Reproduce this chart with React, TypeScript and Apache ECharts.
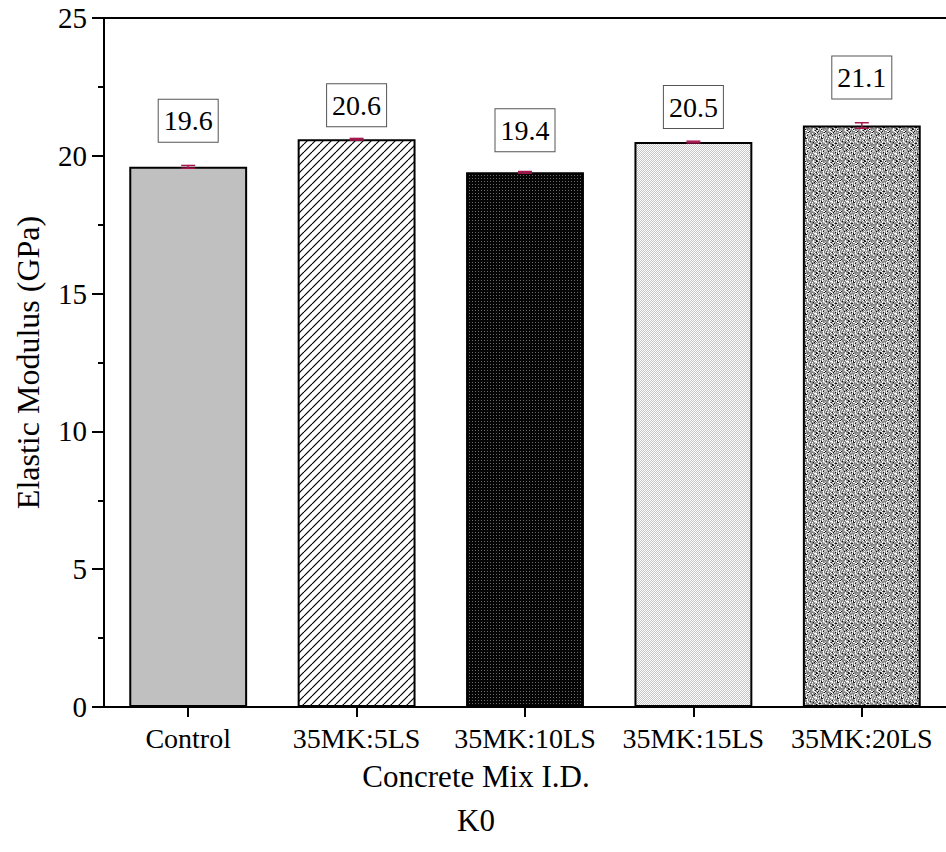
import React, { useEffect, useRef } from "react";
import * as echarts from "echarts";

const categories = ["Control", "35MK:5LS", "35MK:10LS", "35MK:15LS", "35MK:20LS"];
const values = [19.6, 20.6, 19.4, 20.5, 21.1];
const errors = [0.05, 0.03, 0.03, 0.03, 0.1];
const yTicks = [0, 5, 10, 15, 20, 25];
const xTitleLines = ["Concrete Mix I.D.", "K0"];
const yTitle = "Elastic Modulus (GPa)";

// style: gap (px) between each value box and its bar top, as placed in the reference
const labelGaps = [25, 13, 21, 14, 27];

const FONT = '"Liberation Serif", "Times New Roman", serif';

function hash(i: number, j: number) {
  let h = (i * 374761393 + j * 668265263) | 0;
  h = Math.imul(h ^ (h >>> 13), 1274126177);
  h = h ^ (h >>> 16);
  return (h >>> 0) % 1000;
}

function makeCanvas(w: number, h: number) {
  const c = document.createElement("canvas");
  c.width = w;
  c.height = h;
  return c;
}

function hatchPattern() {
  const s = 8;
  const c = makeCanvas(s, s);
  const g = c.getContext("2d")!;
  g.fillStyle = "#ffffff";
  g.fillRect(0, 0, s, s);
  g.strokeStyle = "#000000";
  g.lineWidth = 1.2;
  for (const o of [-s, 0, s]) {
    g.beginPath();
    g.moveTo(o, s);
    g.lineTo(o + s, 0);
    g.stroke();
  }
  return c;
}

function pixelPattern(w: number, h: number, pick: (x: number, y: number) => string) {
  const c = makeCanvas(w, h);
  const g = c.getContext("2d")!;
  for (let y = 0; y < h; y++) {
    for (let x = 0; x < w; x++) {
      g.fillStyle = pick(x, y);
      g.fillRect(x, y, 1, 1);
    }
  }
  return c;
}

function darkPattern() {
  return pixelPattern(3, 3, (x, y) => (x === 1 && y === 1 ? "#6a6a6a" : "#050505"));
}

function lightPattern() {
  return pixelPattern(2, 2, (x, y) => ((x + y) % 2 === 0 ? "#ffffff" : "#c4c4c4"));
}

function mediumPattern() {
  return pixelPattern(16, 16, (x, y) => {
    const r = hash(x, y);
    if (r < 90) return "#111111";
    if (r < 230) return "#ffffff";
    if (r < 450) return "#c8c8c8";
    if (r < 700) return "#9a9a9a";
    return "#7e7e7e";
  });
}

export default function App() {
  const ref = useRef<HTMLDivElement>(null);

  useEffect(() => {
    if (!ref.current) return;
    const chart = echarts.init(ref.current, null, { renderer: "svg" });

    const fills: any[] = [
      "#c0c0c0",
      { image: hatchPattern(), repeat: "repeat" },
      { image: darkPattern(), repeat: "repeat" },
      { image: lightPattern(), repeat: "repeat" },
      { image: mediumPattern(), repeat: "repeat" },
    ];

    const barData = values.map((v, i) => ({
      value: v,
      itemStyle: { color: fills[i] },
      label: { distance: labelGaps[i] },
    }));

    const errData = values.map((v, i) => [i, v, errors[i]]);

    chart.setOption({
      animation: false,
      backgroundColor: "#ffffff",
      textStyle: { fontFamily: FONT },
      grid: { left: 104, top: 18, width: 850, height: 689, containLabel: false },
      xAxis: [
        {
          type: "category",
          data: categories,
          position: "bottom",
          axisLine: { show: true, lineStyle: { color: "#000", width: 2 } },
          axisTick: { show: true, alignWithLabel: true, length: 10, lineStyle: { color: "#000", width: 2 } },
          axisLabel: {
            color: "#000",
            fontFamily: FONT,
            fontSize: 28,
            margin: 17,
            interval: 0,
            hideOverlap: false,
          },
          splitLine: { show: false },
        },
        {
          type: "category",
          data: categories,
          position: "top",
          axisLine: { show: true, lineStyle: { color: "#000", width: 2 } },
          axisTick: { show: false },
          axisLabel: { show: false },
          splitLine: { show: false },
        },
      ],
      yAxis: {
        type: "value",
        min: 0,
        max: 25,
        interval: 5,
        axisLine: { show: true, lineStyle: { color: "#000", width: 2 } },
        axisTick: { show: true, inside: false, length: 12, lineStyle: { color: "#000", width: 2 } },
        minorTick: { show: true, splitNumber: 2, length: 6, lineStyle: { color: "#000", width: 2 } },
        axisLabel: {
          color: "#000",
          fontFamily: FONT,
          fontSize: 29,
          margin: 17,
          formatter: (v: number) => (yTicks.includes(v) ? String(v) : ""),
        },
        splitLine: { show: false },
        name: yTitle,
        nameLocation: "middle",
        nameRotate: 90,
        nameGap: 60,
        nameTextStyle: { color: "#000", fontFamily: FONT, fontSize: 32 },
      },
      graphic: xTitleLines.map((t, i) => ({
        type: "text",
        x: 476,
        y: 776 + i * 44,
        style: {
          text: t,
          fill: "#000",
          font: `31px ${FONT}`,
          textAlign: "center",
          textVerticalAlign: "middle",
        },
      })),
      series: [
        {
          type: "bar",
          data: barData,
          barWidth: "70%",
          itemStyle: { borderColor: "#000", borderWidth: 2 },
          label: {
            show: true,
            position: "top",
            formatter: (p: any) => Number(p.value).toFixed(1),
            color: "#000",
            fontFamily: FONT,
            fontSize: 28,
            lineHeight: 28,
            backgroundColor: "#ffffff",
            borderColor: "#555",
            borderWidth: 1,
            padding: [7, 5, 7, 5],
          },
          z: 2,
        },
        {
          type: "custom",
          data: errData,
          z: 5,
          renderItem: (params: any, api: any) => {
            const x = api.value(0);
            const y = api.value(1);
            const e = api.value(2);
            const top = api.coord([x, y + e]);
            const bot = api.coord([x, y - e]);
            const half = 7;
            const style = { stroke: "#a8164f", lineWidth: 1.5 };
            return {
              type: "group",
              children: [
                { type: "line", shape: { x1: top[0], y1: top[1], x2: bot[0], y2: bot[1] }, style },
                { type: "line", shape: { x1: top[0] - half, y1: top[1], x2: top[0] + half, y2: top[1] }, style },
                { type: "line", shape: { x1: bot[0] - half, y1: bot[1], x2: bot[0] + half, y2: bot[1] }, style },
              ],
            };
          },
        },
      ],
    });

    return () => chart.dispose();
  }, []);

  return (
    <div
      ref={ref}
      style={{ position: "fixed", left: 0, top: 0, width: 946, height: 852, background: "#fff" }}
    />
  );
}
